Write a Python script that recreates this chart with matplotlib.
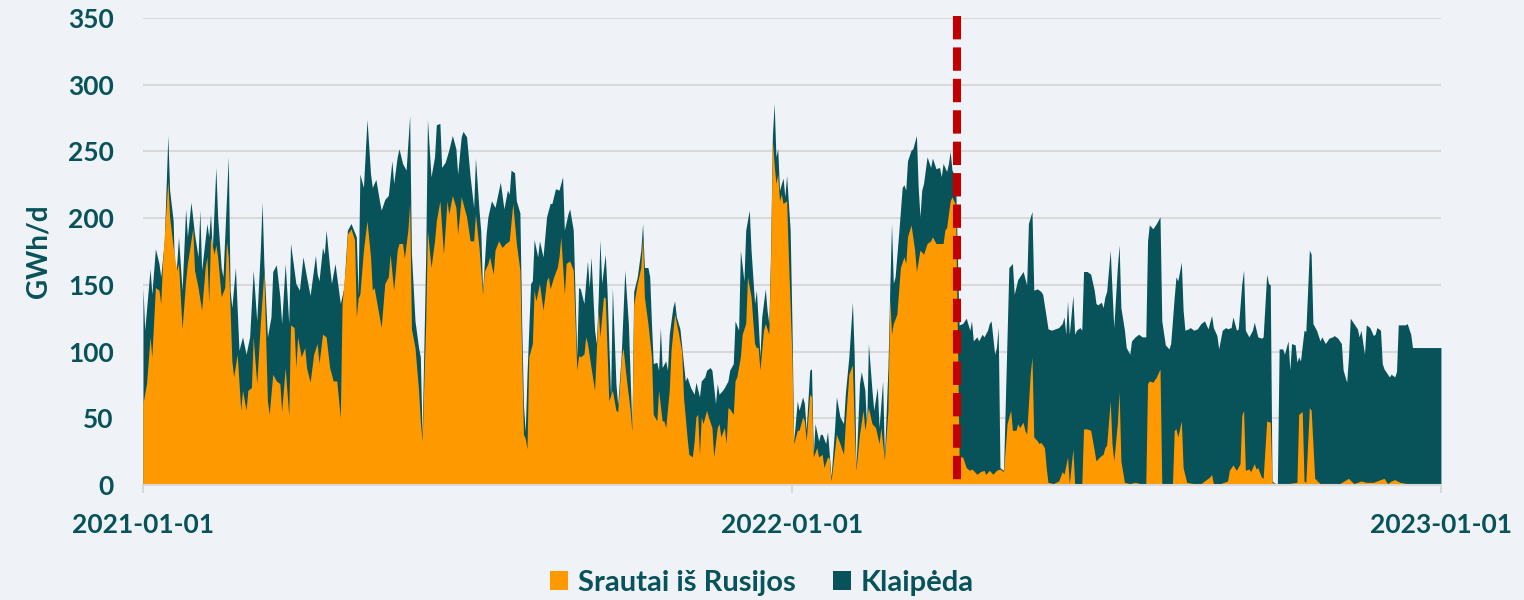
import matplotlib.pyplot as plt
import pandas as pd

# dzień liczony od 2021-01-01, wartości GWh/d
start = pd.Timestamp("2021-01-01")

# górna krawędź stosu (Rusija + Klaipėda)
top_day = [
    0, 1, 4, 5, 7, 9, 10, 12, 14, 15, 17, 18, 20, 22, 24, 25, 27, 29, 31, 32, 33, 36, 37, 38, 39,
    41, 42, 44, 45, 48, 49, 50, 52, 54, 56, 58, 60, 62, 64, 66, 67, 68, 70, 72, 73, 75, 77, 78,
    80, 82, 83, 85, 86, 88, 90, 92, 94, 97, 98, 99, 101, 102, 103, 105, 106, 108, 111, 113, 115,
    117, 120, 121, 122, 124, 126, 128, 129, 131, 133, 134, 136, 138, 140, 141, 143, 144, 146, 148,
    150, 151, 153, 155, 156, 157, 159, 160, 162, 164, 165, 167, 168, 170, 172, 174, 176, 177, 179,
    180, 182, 184, 186, 187, 189, 190, 191, 193, 194, 196, 198, 201, 203, 205, 206, 207, 209, 210,
    212, 213, 214, 215, 216, 218, 219, 220, 222, 223, 225, 227, 229, 230, 232, 234, 236, 237, 239,
    240, 242, 244, 245, 246, 248, 250, 251, 252, 254, 255, 256, 257, 258, 260, 261, 263, 264, 266,
    267, 269, 271, 273, 275, 276, 278, 280, 281, 282, 284, 285, 286, 287, 289, 290, 291, 292, 294,
    295, 296, 298, 299, 300, 302, 303, 305, 306, 308, 310, 311, 313, 314, 316, 317, 319, 320, 322,
    323, 324, 326, 327, 329, 330, 332, 333, 335, 336, 338, 339, 341, 342, 344, 345, 346, 347, 348,
    350, 351, 352, 353, 354, 355, 356, 357, 358, 360, 361, 362, 364, 365, 366, 368, 369, 371, 372,
    373, 375, 376, 377, 378, 380, 381, 382, 384, 385, 387, 389, 390, 392, 394, 395, 397, 399, 400,
    401, 403, 404, 406, 407, 408, 410, 411, 413, 414, 416, 417, 419, 420, 421, 422, 423, 425, 427,
    428, 429, 430, 432, 433, 435, 436, 437, 438, 439, 441, 443, 444, 446, 448, 449, 450, 452, 453,
    454, 455, 457, 459, 461, 463, 465, 466, 467, 469, 470, 472, 473, 475, 476, 477, 479, 480, 481,
    482, 484, 487, 489, 490, 492, 493, 495, 497, 498, 500, 501, 503, 505, 506, 508, 509, 511, 513,
    515, 517, 518, 519, 520, 521, 523, 524, 525, 527, 528, 529, 531, 533, 535, 536, 537, 539, 540,
    541, 542, 544, 545, 546, 548, 549, 550, 552, 553, 555, 556, 558, 560, 562, 564, 565, 566, 568,
    570, 572, 573, 575, 577, 578, 580, 581, 582, 584, 585, 586, 588, 589, 591, 593, 595, 596, 597,
    599, 601, 602, 604, 605, 607, 609, 610, 612, 613, 615, 616, 618, 619, 620, 622, 624, 625, 627,
    629, 630, 632, 633, 634, 635, 638, 639, 641, 642, 644, 645, 646, 648, 649, 650, 651, 653, 654,
    656, 657, 658, 660, 662, 663, 665, 667, 669, 670, 672, 674, 675, 677, 678, 679, 681, 683, 684,
    685, 687, 688, 690, 692, 693, 694, 696, 697, 698, 700, 701, 702, 704, 705, 706, 708, 710, 711,
    713, 714, 730,
]
top_gwh = [
    148, 116, 162, 143, 177, 166, 156, 183, 262, 221, 198, 146, 186, 146, 207, 186, 212, 188, 171, 206, 161, 196, 186, 203, 176,
    238, 201, 163, 156, 246, 146, 133, 163, 101, 111, 98, 111, 161, 123, 176, 212, 166, 111, 126, 160, 165, 141, 121,
    166, 121, 181, 161, 151, 146, 171, 156, 142, 172, 158, 153, 178, 173, 191, 163, 151, 166, 136, 148, 191,
    196, 186, 143, 233, 223, 274, 233, 223, 229, 213, 206, 214, 217, 243, 226, 246, 252, 241, 236,
    277, 173, 123, 103, 96, 36, 171, 274, 231, 246, 270, 271, 238, 242, 251, 262, 252, 233, 261,
    265, 261, 231, 208, 245, 206, 190, 145, 188, 201, 213, 208, 227, 207, 221, 218, 236, 234, 213,
    204, 121, 60, 40, 83, 151, 153, 184, 171, 183, 171, 201, 211, 211, 222, 221, 231, 191, 203,
    207, 191, 96, 148, 147, 136, 168, 148, 171, 116, 106, 138, 184, 151, 173, 146, 66, 148, 76,
    60, 98, 161, 121, 42, 145, 156, 176, 196, 163, 163, 156, 121, 91, 92, 86, 118, 88, 93,
    86, 113, 133, 138, 126, 117, 104, 78, 81, 73, 68, 77, 66, 78, 81, 86, 88, 86, 61,
    76, 68, 71, 73, 78, 86, 91, 123, 116, 176, 153, 191, 206, 176, 136, 146, 123, 96, 126,
    147, 131, 121, 175, 262, 286, 246, 252, 221, 230, 216, 232, 191, 121, 33, 63, 56, 66, 61,
    41, 86, 87, 23, 46, 33, 38, 38, 31, 40, 6, 43, 66, 51, 46, 68, 96, 137, 98,
    13, 76, 85, 71, 43, 106, 71, 56, 73, 43, 78, 21, 88, 146, 196, 151, 156, 188, 223,
    225, 221, 243, 251, 252, 262, 223, 201, 221, 226, 246, 238, 245, 237, 238, 231, 241, 235, 241,
    250, 236, 230, 120, 121, 125, 116, 123, 108, 111, 108, 113, 111, 116, 121, 123, 98, 103, 118,
    13, 11, 163, 166, 143, 154, 156, 160, 150, 196, 205, 146, 147, 145, 143, 126, 117, 116, 117,
    118, 121, 126, 113, 138, 113, 142, 113, 116, 118, 116, 160, 160, 158, 146, 136, 135, 137, 133,
    141, 145, 176, 146, 118, 163, 180, 133, 116, 103, 98, 108, 111, 113, 111, 111, 183, 195, 192,
    196, 201, 123, 105, 102, 106, 141, 156, 153, 167, 131, 116, 117, 118, 116, 117, 121, 122, 123,
    117, 127, 118, 112, 102, 116, 118, 117, 118, 126, 116, 117, 151, 161, 116, 111, 116, 122, 111,
    110, 111, 158, 151, 150, 3, 0, 102, 102, 98, 108, 86, 106, 105, 92, 96, 93, 116, 115,
    176, 173, 121, 116, 108, 111, 106, 110, 111, 112, 110, 106, 86, 77, 96, 125, 121, 117, 111,
    116, 98, 120, 118, 112, 113, 118, 116, 91, 87, 83, 81, 83, 81, 85, 120, 120, 120, 121,
    113, 103, 103,
]

# Srautai iš Rusijos
rus_day = [
    0, 2, 4, 5, 7, 9, 10, 11, 14, 15, 17, 19, 20, 22, 24, 25, 28, 29, 31, 33, 35, 36, 37, 38, 40,
    41, 42, 44, 46, 47, 48, 50, 51, 53, 55, 56, 58, 59, 61, 62, 64, 66, 68, 70, 71, 73, 75, 77,
    78, 80, 82, 83, 85, 86, 87, 89, 91, 92, 94, 96, 98, 99, 101, 103, 105, 107, 109, 111, 112,
    114, 115, 117, 119, 120, 121, 122, 124, 126, 128, 129, 130, 132, 134, 136, 138, 139, 141, 143,
    144, 146, 147, 149, 150, 151, 153, 155, 156, 157, 159, 160, 162, 164, 165, 167, 169, 171, 172,
    174, 176, 177, 179, 180, 182, 184, 186, 187, 189, 191, 192, 194, 195, 197, 198, 200, 202, 204,
    206, 208, 210, 212, 213, 214, 215, 216, 217, 219, 220, 221, 223, 225, 227, 228, 229, 231, 233,
    234, 235, 237, 238, 240, 242, 244, 245, 246, 248, 249, 250, 252, 254, 255, 256, 257, 259, 260,
    262, 264, 266, 267, 268, 269, 270, 272, 274, 275, 276, 278, 280, 281, 282, 284, 286, 287, 289,
    290, 292, 293, 294, 296, 297, 299, 301, 303, 304, 306, 307, 309, 310, 311, 312, 313, 314, 315,
    317, 318, 320, 321, 323, 324, 325, 327, 328, 329, 330, 332, 333, 334, 336, 337, 339, 340, 342,
    343, 344, 345, 346, 347, 349, 350, 352, 353, 354, 355, 356, 357, 358, 359, 360, 362, 363, 365,
    366, 368, 369, 371, 372, 373, 375, 376, 377, 379, 380, 382, 383, 385, 386, 387, 389, 390, 392,
    394, 395, 397, 399, 400, 401, 403, 405, 406, 408, 410, 412, 414, 415, 417, 419, 420, 421, 422,
    424, 426, 428, 429, 430, 432, 434, 435, 437, 439, 441, 443, 444, 446, 448, 450, 451, 452, 454,
    455, 457, 459, 460, 461, 463, 465, 466, 467, 469, 471, 473, 474, 476, 478, 480, 482, 484, 486,
    488, 489, 491, 492, 493, 495, 496, 497, 499, 500, 501, 503, 504, 505, 507, 508, 509, 512, 515,
    517, 518, 520, 521, 523, 524, 526, 528, 529, 531, 533, 535, 536, 538, 540, 541, 542, 544, 545,
    546, 548, 549, 550, 552, 555, 558, 561, 564, 565, 566, 568, 570, 572, 573, 579, 580, 581, 582,
    584, 585, 587, 591, 595, 600, 601, 602, 606, 610, 611, 613, 615, 617, 618, 619, 620, 622, 623,
    625, 626, 627, 629, 630, 632, 634, 635, 637, 641, 644, 649, 650, 652, 653, 654, 656, 657, 659,
    662, 673, 678, 681, 685, 688, 692, 698, 700, 702, 704, 707, 711, 714, 730,
]
rus_gwh = [
    61, 76, 111, 96, 148, 146, 136, 166, 228, 201, 178, 161, 166, 117, 153, 166, 192, 161, 148, 131, 163, 171, 137, 186, 173,
    180, 171, 141, 148, 183, 171, 93, 81, 98, 56, 71, 56, 71, 73, 111, 76, 121, 160, 63, 53, 83, 78, 76,
    55, 88, 52, 120, 118, 88, 111, 96, 103, 88, 77, 98, 106, 91, 113, 111, 88, 78, 78, 50, 136,
    166, 188, 192, 184, 126, 140, 143, 176, 198, 171, 146, 148, 133, 118, 151, 156, 173, 146, 176,
    181, 181, 170, 191, 211, 117, 103, 71, 48, 33, 121, 191, 163, 183, 198, 213, 173, 213, 203,
    217, 208, 188, 216, 211, 201, 183, 183, 203, 178, 143, 160, 166, 171, 158, 176, 183, 178, 181,
    183, 211, 181, 161, 96, 38, 35, 27, 96, 106, 146, 138, 151, 131, 153, 156, 147, 156, 163,
    171, 186, 143, 166, 168, 161, 86, 97, 96, 98, 111, 106, 88, 71, 101, 132, 111, 141, 140,
    63, 71, 56, 55, 73, 95, 103, 78, 56, 40, 135, 151, 163, 186, 141, 121, 96, 53, 48,
    71, 48, 48, 43, 71, 101, 128, 115, 100, 66, 36, 23, 21, 33, 51, 53, 23, 51, 46,
    56, 51, 43, 21, 43, 46, 36, 43, 31, 58, 57, 53, 78, 81, 96, 113, 121, 156, 141,
    123, 106, 103, 103, 86, 116, 121, 113, 171, 258, 240, 226, 233, 213, 218, 211, 213, 171, 96,
    31, 41, 41, 51, 48, 33, 68, 66, 21, 28, 21, 23, 13, 21, 20, 3, 26, 38, 31,
    23, 46, 83, 90, 46, 11, 38, 56, 41, 58, 46, 43, 31, 43, 19, 56, 140, 113, 121,
    128, 163, 171, 166, 186, 195, 176, 160, 176, 173, 181, 183, 186, 181, 181, 181, 191, 193, 213,
    216, 210, 22, 21, 21, 13, 11, 12, 11, 8, 10, 11, 8, 11, 8, 11, 12, 10, 46,
    56, 41, 41, 46, 43, 47, 41, 38, 83, 96, 36, 33, 31, 32, 28, 13, 2, 1, 3,
    10, 8, 21, 1, 27, 1, 0, 0, 42, 42, 41, 26, 18, 21, 23, 28, 30, 63, 31,
    18, 46, 70, 18, 2, 1, 2, 1, 0, 76, 78, 77, 81, 87, 0, 0, 41, 42, 36,
    48, 13, 2, 1, 1, 6, 8, 1, 1, 3, 11, 15, 11, 16, 52, 56, 11, 12, 10,
    16, 12, 13, 6, 5, 48, 47, 2, 1, 1, 1, 2, 53, 55, 3, 2, 58, 56, 5,
    1, 1, 5, 1, 3, 2, 2, 5, 1, 3, 4, 2, 1, 0, 0,
]

cutoff = "2022-04-04"

bg = "#EFF3F7"
teal = "#08525A"
orange = "#FF9900"
grid_col = "#D9D9D9"

plt.rcParams["font.family"] = ["Lato", "DejaVu Sans"]
plt.rcParams["font.weight"] = "bold"

top_dates = start + pd.to_timedelta(top_day, unit="D")
rus_dates = start + pd.to_timedelta(rus_day, unit="D")

fig = plt.figure(figsize=(15.24, 6.0), dpi=100, facecolor=bg)
ax = fig.add_axes([0.0938, 0.1917, 0.8517, 0.7783], facecolor=bg)

h_kl = ax.fill_between(top_dates, 0, top_gwh, color=teal, lw=0, zorder=2, label="Klaipėda")
h_ru = ax.fill_between(rus_dates, 0, rus_gwh, color=orange, lw=0, zorder=3, label="Srautai iš Rusijos")

# linia odcięcia rysowana z góry w dół, żeby kreska zaczynała się u góry
cut = pd.Timestamp(cutoff)
ax.plot([cut, cut], [351.8, 0], color="#C00000", lw=5.8, dashes=(2.9, 1.0),
        solid_capstyle="butt", dash_capstyle="butt", clip_on=False, zorder=4)

ax.set_xlim(pd.Timestamp("2021-01-01"), pd.Timestamp("2023-01-01"))
ax.set_ylim(0, 350)
xt = [pd.Timestamp("2021-01-01"), pd.Timestamp("2022-01-01"), pd.Timestamp("2023-01-01")]
ax.set_xticks(xt)
ax.set_xticklabels([d.strftime("%Y-%m-%d") for d in xt], fontweight="bold")
ax.set_yticks(range(0, 351, 50))
ax.set_yticklabels([str(v) for v in range(0, 351, 50)], fontweight="bold")

ax.tick_params(axis="x", length=6, width=1.5, color=grid_col, pad=14, labelsize=19, labelcolor=teal)
ax.tick_params(axis="y", length=0, pad=21, labelsize=19, labelcolor=teal)
ax.set_ylabel("GWh/d", fontsize=20, fontweight="bold", color=teal, labelpad=12)

ax.yaxis.grid(True, color=grid_col, lw=1.5)
ax.set_axisbelow(True)
for s in ["top", "right", "left"]:
    ax.spines[s].set_visible(False)
ax.spines["bottom"].set_color(grid_col)
ax.spines["bottom"].set_linewidth(1.5)
ax.spines["bottom"].set_zorder(5)

fig.legend(handles=[h_ru, h_kl], loc="center", bbox_to_anchor=(0.5, 0.028), ncol=2,
           frameon=False, prop={"size": 21, "weight": "bold"}, labelcolor=teal,
           handlelength=0.62, handleheight=0.62, handletextpad=0.33, columnspacing=1.3)

fig.savefig("out.png", dpi=100, facecolor=bg)
